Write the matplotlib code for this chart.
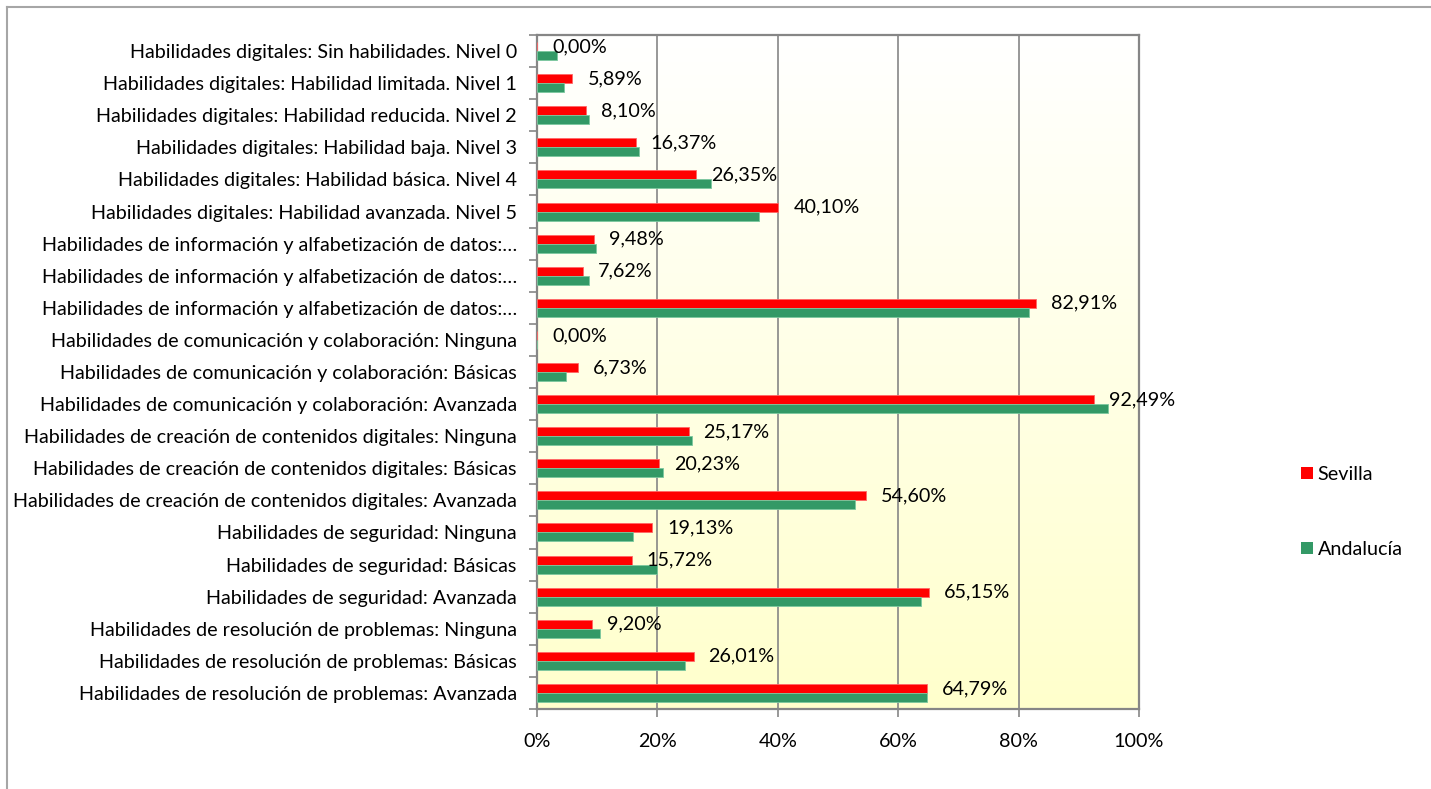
import numpy as np
import matplotlib.pyplot as plt
from matplotlib.lines import Line2D
from matplotlib.patches import Patch
from matplotlib.ticker import FuncFormatter, FixedLocator

plt.rcParams['font.family'] = ['Lato', 'DejaVu Sans']

categorias = [
    "Habilidades digitales: Sin habilidades. Nivel 0",
    "Habilidades digitales: Habilidad limitada. Nivel 1",
    "Habilidades digitales: Habilidad reducida. Nivel 2",
    "Habilidades digitales: Habilidad baja. Nivel 3",
    "Habilidades digitales: Habilidad básica. Nivel 4",
    "Habilidades digitales: Habilidad avanzada. Nivel 5",
    "Habilidades de información y alfabetización de datos:…",
    "Habilidades de información y alfabetización de datos:…",
    "Habilidades de información y alfabetización de datos:…",
    "Habilidades de comunicación y colaboración: Ninguna",
    "Habilidades de comunicación y colaboración: Básicas",
    "Habilidades de comunicación y colaboración: Avanzada",
    "Habilidades de creación de contenidos digitales: Ninguna",
    "Habilidades de creación de contenidos digitales: Básicas",
    "Habilidades de creación de contenidos digitales: Avanzada",
    "Habilidades de seguridad: Ninguna",
    "Habilidades de seguridad: Básicas",
    "Habilidades de seguridad: Avanzada",
    "Habilidades de resolución de problemas: Ninguna",
    "Habilidades de resolución de problemas: Básicas",
    "Habilidades de resolución de problemas: Avanzada",
]

sevilla = [0.00, 5.89, 8.10, 16.37, 26.35, 40.10, 9.48, 7.62, 82.91, 0.00, 6.73,
           92.49, 25.17, 20.23, 54.60, 19.13, 15.72, 65.15, 9.20, 26.01, 64.79]
andalucia = [3.4, 4.5, 8.6, 16.9, 28.9, 36.8, 9.75, 8.7, 81.7, 0.0, 4.9,
             94.8, 25.8, 21.0, 52.8, 16.0, 19.9, 63.8, 10.5, 24.6, 64.75]

rojo = '#FF0000'
verde = '#339966'
gris = '#868686'
fs = 14.2

fig = plt.figure(figsize=(14.31, 7.89), dpi=100)
ax = fig.add_axes([537 / 1431, 1 - 709 / 789, 602 / 1431, 674 / 789])

n = len(categorias)
y = np.arange(n)
h = 0.28

# fondo degradado del área de trazado
grad = np.linspace(0, 1, 256).reshape(-1, 1)
fondo = np.ones((256, 1, 3))
fondo[:, 0, 2] = 1 - 0.2 * grad[:, 0]
ax.imshow(fondo, extent=[0, 100, n - 0.5, -0.5], aspect='auto', zorder=0,
          interpolation='bilinear')

ax.barh(y - h / 2, sevilla, height=h, color=rojo, edgecolor='#FF6666',
        linewidth=0.6, zorder=3, label='Sevilla')
ax.barh(y + h / 2, andalucia, height=h, color=verde, edgecolor='#7CC89F',
        linewidth=0.6, zorder=3, label='Andalucía')

for yi, v in zip(y, sevilla):
    ax.annotate(f"{v:.2f}%".replace('.', ','), (v, yi - h / 2),
                xytext=(15, 0), textcoords='offset pixels',
                ha='left', va='center', fontsize=fs, zorder=5)

ax.set_xlim(0, 100)
ax.set_ylim(n - 0.5, -0.5)
ax.set_xticks(np.arange(0, 101, 20))
ax.xaxis.set_major_formatter(FuncFormatter(lambda v, p: f"{v:.0f}%"))
ax.grid(axis='x', color=gris, linewidth=1.2, zorder=1)
ax.set_axisbelow(True)

ax.set_yticks(y)
ax.set_yticklabels(categorias)
ax.yaxis.set_minor_locator(FixedLocator(np.arange(-0.5, n, 1)))
ax.tick_params(axis='y', which='major', length=0, pad=14.5, labelsize=fs)
ax.tick_params(axis='y', which='minor', length=6, color=gris, width=1.2)
ax.tick_params(axis='x', length=6, color=gris, width=1.2, pad=11, labelsize=fs)

for s in ax.spines.values():
    s.set_color(gris)
    s.set_linewidth(1.6)

# marco exterior del gráfico
fig.add_artist(Line2D([7 / 1431, 7 / 1431], [0, 1 - 7 / 789], transform=fig.transFigure,
                      color='#A6A6A6', linewidth=1.5))
fig.add_artist(Line2D([7 / 1431, 1], [1 - 7 / 789, 1 - 7 / 789], transform=fig.transFigure,
                      color='#A6A6A6', linewidth=1.5))

handles = [Patch(facecolor=rojo, label='Sevilla'),
           Patch(facecolor=verde, label='Andalucía')]
fig.legend(handles=handles, loc='center left', bbox_to_anchor=(1283 / 1431, 1 - 512 / 789),
           frameon=False, fontsize=fs, handlelength=0.6, handleheight=0.6,
           handletextpad=0.25, labelspacing=2.95)

fig.savefig('out.png', dpi=100)
